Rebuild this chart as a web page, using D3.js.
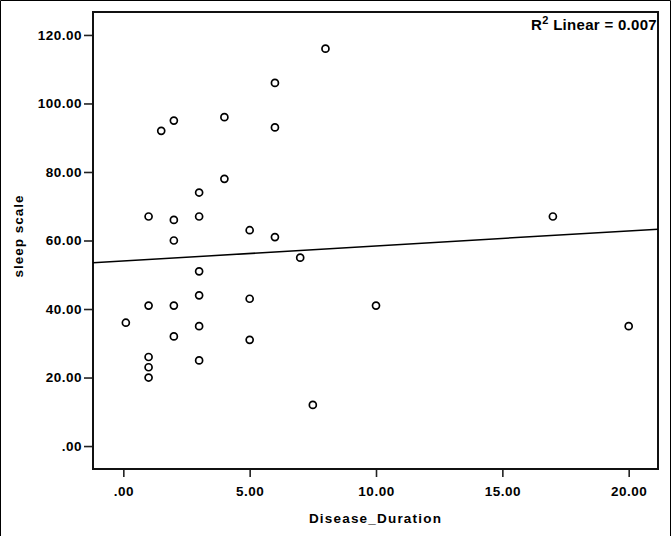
<!DOCTYPE html>
<html>
<head>
<meta charset="utf-8">
<script src="https://cdn.jsdelivr.net/npm/d3@7"></script>
<style>
  html, body { margin: 0; padding: 0; background: #fff; }
  svg { display: block; }
  text { font-family: "Liberation Sans", Arial, sans-serif; font-weight: bold; fill: #000; }
</style>
</head>
<body>
<svg id="chart" width="672" height="536"></svg>
<script>
// ---- Data ----
const diseaseDuration = [8, 6, 1.5, 2, 4, 6, 4, 3, 1, 2, 3, 2, 5, 6, 7, 17,
                         3, 3, 1, 2, 5, 0.1, 3, 2, 5, 1, 1, 1, 3, 7.5, 10, 20];
const sleepScale      = [116, 106, 92, 95, 96, 93, 78, 74, 67, 66, 67, 60, 63, 61, 55, 67,
                         51, 44, 41, 41, 43, 36, 35, 32, 31, 26, 23, 20, 25, 12, 41, 35];
const xTicks = [0, 5, 10, 15, 20];
const yTicks = [0, 20, 40, 60, 80, 100, 120];
const xTitle = "Disease_Duration";
const yTitle = "sleep scale";
const r2Label = "0.007";

// ---- Layout ----
const W = 672, H = 536;
const plot = { left: 93, top: 12, right: 658, bottom: 469 };
const svg = d3.select("#chart");

// outer border (left, top, right)
svg.append("path")
  .attr("d", `M0.5,${H} L0.5,0.5 L670.5,0.5 L670.5,${H}`)
  .attr("fill", "none").attr("stroke", "#000").attr("stroke-width", 1);

const x = d3.scaleLinear().domain([-1.2, 21.16]).range([plot.left, plot.right]);
const y = d3.scaleLinear().domain([-6.7, 126.7]).range([plot.bottom, plot.top]);

const fmt = v => d3.format(".2f")(v).replace(/^0\./, ".");

// axes
const xAxis = svg.append("g")
  .attr("transform", `translate(0,${plot.bottom})`)
  .call(d3.axisBottom(x).tickValues(xTicks).tickFormat(fmt).tickSize(8).tickPadding(9).tickSizeOuter(0));
const yAxis = svg.append("g")
  .attr("transform", `translate(${plot.left},0)`)
  .call(d3.axisLeft(y).tickValues(yTicks).tickFormat(fmt).tickSize(9).tickPadding(2).tickSizeOuter(0));
[xAxis, yAxis].forEach(g => {
  g.select(".domain").remove();
  g.selectAll(".tick line").attr("stroke", "#222").attr("stroke-width", 1.6);
  g.selectAll(".tick text")
    .style("font-family", '"Liberation Sans", Arial, sans-serif')
    .style("font-weight", "bold")
    .style("font-size", "13.5px")
    .style("letter-spacing", "0.5px")
    .attr("fill", "#000");
});

// frame
svg.append("rect")
  .attr("x", plot.left).attr("y", plot.top)
  .attr("width", plot.right - plot.left).attr("height", plot.bottom - plot.top)
  .attr("fill", "none").attr("stroke", "#111").attr("stroke-width", 2);

// regression line (least squares from data)
const n = diseaseDuration.length;
const mx = d3.mean(diseaseDuration), my = d3.mean(sleepScale);
let sxy = 0, sxx = 0;
for (let i = 0; i < n; i++) {
  sxy += (diseaseDuration[i] - mx) * (sleepScale[i] - my);
  sxx += (diseaseDuration[i] - mx) ** 2;
}
const slope = sxy / sxx, intercept = my - slope * mx;
const [x0, x1] = x.domain();
svg.append("line")
  .attr("x1", x(x0)).attr("y1", y(intercept + slope * x0))
  .attr("x2", x(x1)).attr("y2", y(intercept + slope * x1))
  .attr("stroke", "#000").attr("stroke-width", 1.5);

// points
svg.append("g").selectAll("circle")
  .data(diseaseDuration.map((d, i) => [d, sleepScale[i]]))
  .join("circle")
  .attr("cx", d => x(d[0])).attr("cy", d => y(d[1]))
  .attr("r", 3.5)
  .attr("fill", "#fff").attr("stroke", "#000").attr("stroke-width", 1.7);

// R2 label
const r2 = svg.append("text")
  .attr("x", 657).attr("y", 30)
  .attr("text-anchor", "end")
  .style("font-size", "15px").style("letter-spacing", "0.3px");
r2.append("tspan").text("R");
r2.append("tspan").attr("dy", -6).style("font-size", "11px").text("2");
r2.append("tspan").attr("dy", 6).text(" Linear = " + r2Label);

// axis titles
svg.append("text")
  .attr("x", (plot.left + plot.right) / 2).attr("y", 523)
  .attr("text-anchor", "middle")
  .style("font-size", "13.5px").style("letter-spacing", "1.2px")
  .text(xTitle);
svg.append("text")
  .attr("transform", `translate(23,236) rotate(-90)`)
  .attr("text-anchor", "middle")
  .style("font-size", "13.5px").style("letter-spacing", "1px")
  .text(yTitle);
</script>
</body>
</html>
